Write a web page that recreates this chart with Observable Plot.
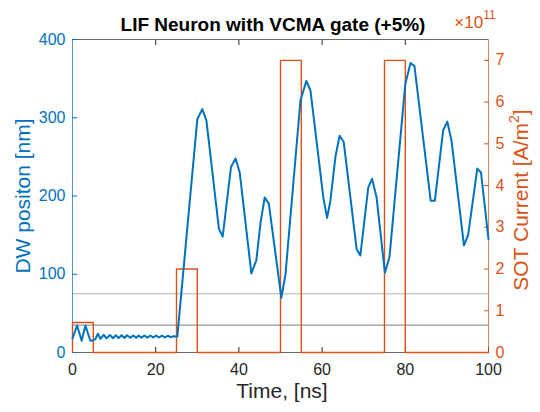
<!DOCTYPE html>
<html>
<head>
<meta charset="utf-8">
<script src="https://cdn.jsdelivr.net/npm/d3@7"></script>
<script src="https://cdn.jsdelivr.net/npm/@observablehq/plot@0.6"></script>
<style>
  html, body { margin: 0; padding: 0; background: #fff; }
  #chart { width: 540px; height: 412px; }
</style>
</head>
<body>
<div id="chart"></div>
<script>
// ---- data ----
const title = "LIF Neuron with VCMA gate (+5%)";
const xLabel = "Time, [ns]";
const yLeftLabel = "DW positon [nm]";
const yRightLabel = "SOT Current [A/m";
const xTicks = [0, 20, 40, 60, 80, 100];
const yLeftTicks = [0, 100, 200, 300, 400];
const yRightTicks = [0, 1, 2, 3, 4, 5, 6, 7];
const rightMax = 7.5; // x10^11

// DW position (nm) vs time (ns)
const dwTime = [0, 1.1, 2.2, 3.1, 4.3, 4.9, 5.5, 6.1, 6.7, 7.5, 8.2, 9.0, 9.7, 10.4, 11.1, 11.8, 12.5, 13.1, 13.9, 14.6, 15.3, 15.9, 16.6, 17.3, 18.0, 18.75, 19.4, 20.1, 20.8, 21.5, 22.2, 22.9, 23.6, 24.3, 25.2,
  30.0, 31.2, 32.2, 35.2, 36.1, 38.1, 39.2, 40.2, 43.0, 44.2, 45.2, 46.2, 47.2, 50.2, 51.2,
  54.8, 56.2, 57.2, 60.3, 61.2, 62.0, 63.2, 64.2, 65.2, 68.3, 69.2, 71.1, 72.0, 73.1, 75.1, 76.2,
  80.0, 81.25, 82.2, 86.1, 87.1, 89.1, 90.1, 91.1, 94.1, 95.1, 97.3, 98.2, 100];
const dwPos = [18, 34.5, 15, 34.5, 15, 15.3, 17, 24, 17.5, 22.6, 18, 22.3, 18.3, 22, 18.5, 22, 18.5, 22, 18.8, 21.8, 18.8, 21.8, 19, 21.7, 19, 21.7, 19.2, 21.6, 19.2, 21.5, 19.3, 21.4, 19.6, 20.8, 20.4,
  298, 311, 296, 158, 148, 237, 248, 230, 101, 118, 166, 198, 190, 70, 100,
  322, 347, 335, 198, 172, 194, 250, 277, 269, 132, 124, 211, 222, 198, 102, 122,
  343, 370, 366, 194, 194, 284, 295, 271, 137, 150, 235, 230, 145];

// SOT current pulses (x10^11 A/m^2)
const pulseStart = [0, 25, 50, 75];
const pulseEnd = [5, 30, 55, 80];
const pulseAmp = [0.72, 2, 7, 7];

// threshold lines (nm)
const thresholds = [75, 35];
const thresholdColors = ["#b3b3b3", "#7a7a7a"];

// ---- build tables ----
const blue = "#0072BD";
const orange = "#D95319";
const dark = "#262626";
const k = 400 / rightMax;
const dw = dwTime.map((t, i) => ({t, y: dwPos[i]}));
const sot = [{t: 0, v: 0}];
pulseStart.forEach((s, i) => {
  sot.push({t: s, v: 0}, {t: s, v: pulseAmp[i]}, {t: pulseEnd[i], v: pulseAmp[i]}, {t: pulseEnd[i], v: 0});
});
sot.push({t: 100, v: 0});

const font = "'Liberation Sans', Arial, Helvetica, sans-serif";

const svg = Plot.plot({
  width: 540,
  height: 412,
  marginLeft: 72,
  marginRight: 52,
  marginTop: 39,
  marginBottom: 60,
  style: {fontFamily: font, fontSize: "16px", background: "#fff", overflow: "visible"},
  x: {domain: [0, 100]},
  y: {domain: [0, 400]},
  marks: [
    Plot.ruleY(thresholds, {y: d => d, stroke: (d, i) => thresholdColors[i], strokeWidth: 1}),
    Plot.ruleY([400], {stroke: dark, strokeWidth: 0.7}),
    Plot.ruleY([0], {stroke: dark, strokeWidth: 0.7}),
    Plot.axisX({anchor: "top", ticks: xTicks.slice(1, -1), tickSize: -5, tickFormat: () => "", label: null, stroke: dark}),
    Plot.axisX({anchor: "bottom", ticks: xTicks, tickSize: -5, tickPadding: 16, label: null, color: dark, fontSize: 16}),
    Plot.axisY({anchor: "left", ticks: yLeftTicks, tickSize: -5, tickPadding: 12, label: null, color: blue, fontSize: 16}),
    Plot.axisY({anchor: "right", ticks: yRightTicks.map(v => v * k), tickFormat: d => String(Math.round(d / k)), tickSize: -5, tickPadding: 12, label: null, color: orange, fontSize: 16}),
    Plot.ruleX([0], {stroke: blue, strokeWidth: 0.7}),
    Plot.ruleX([100], {stroke: orange, strokeWidth: 0.7}),
    Plot.line(sot, {x: "t", y: d => d.v * k, stroke: orange, strokeWidth: 1.4}),
    Plot.line(dw, {x: "t", y: "y", stroke: blue, strokeWidth: 2})
  ]
});

const s = d3.select(svg);
s.append("text").attr("x", 273).attr("y", 31).attr("text-anchor", "middle")
  .attr("font-family", font).attr("font-weight", "bold").attr("font-size", 19).attr("fill", "#000").text(title);
s.append("text").attr("x", 282).attr("y", 398).attr("text-anchor", "middle")
  .attr("font-family", font).attr("font-size", 21).attr("fill", dark).text(xLabel);
s.append("text").attr("transform", "translate(30,196) rotate(-90)").attr("text-anchor", "middle")
  .attr("font-family", font).attr("font-size", 21).attr("fill", blue).text(yLeftLabel);
const rl = s.append("text").attr("transform", "translate(528,200) rotate(-90)").attr("text-anchor", "middle")
  .attr("font-family", font).attr("font-size", 21).attr("fill", orange);
rl.append("tspan").text(yRightLabel);
rl.append("tspan").attr("font-size", 14).attr("dy", -9).text("2");
rl.append("tspan").attr("dy", 9).text("]");
const ex = s.append("text").attr("x", 475).attr("y", 28)
  .attr("font-family", font).attr("font-size", 17).attr("fill", orange);
ex.append("tspan").text("\u00d710");
ex.append("tspan").attr("font-size", 12).attr("dy", -9).text("11");

document.getElementById("chart").appendChild(svg);
</script>
</body>
</html>
